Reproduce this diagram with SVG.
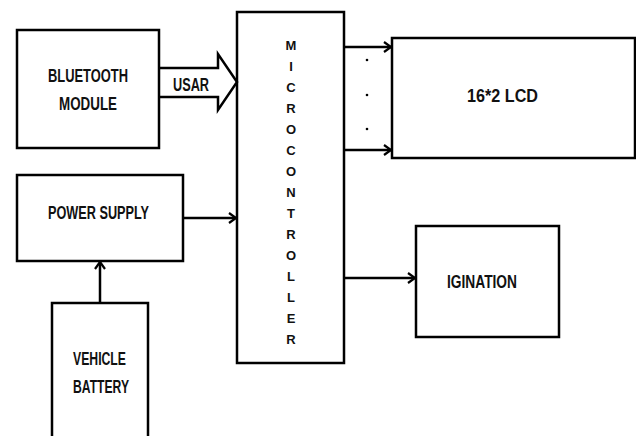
<svg xmlns="http://www.w3.org/2000/svg" width="636" height="436" viewBox="0 0 636 436">
<style>
.box{fill:#fff;stroke:#000;stroke-width:2.5}
.t{font-family:"Liberation Sans",Arial,sans-serif;font-weight:bold;font-size:19px;fill:#111}
.m{font-family:"Liberation Sans",Arial,sans-serif;font-weight:bold;font-size:13px;fill:#111;text-anchor:middle}
.c{fill:none;stroke:#000;stroke-width:2.5}
</style>
<defs>
<marker id="ah" markerWidth="10" markerHeight="12" refX="8" refY="6" orient="auto" markerUnits="userSpaceOnUse">
<polyline points="1,1 8,6 1,11" fill="none" stroke="#000" stroke-width="2.2"/>
</marker>
</defs>
<rect width="636" height="436" fill="#fff"/>
<g id="bluetooth">
<rect class="box" x="17" y="30" width="142" height="118"/>
<text class="t" x="48" y="82" textLength="80" lengthAdjust="spacingAndGlyphs">BLUETOOTH</text>
<text class="t" x="59" y="110" textLength="58" lengthAdjust="spacingAndGlyphs">MODULE</text>
</g>
<g id="power">
<rect class="box" x="17" y="175" width="166" height="86"/>
<text class="t" x="48" y="219" textLength="101" lengthAdjust="spacingAndGlyphs">POWER SUPPLY</text>
</g>
<g id="battery">
<rect class="box" x="52" y="303" width="96" height="150"/>
<text class="t" x="73" y="365" textLength="53" lengthAdjust="spacingAndGlyphs">VEHICLE</text>
<text class="t" x="73" y="393" textLength="56" lengthAdjust="spacingAndGlyphs">BATTERY</text>
</g>
<g id="microcontroller">
<rect class="box" x="237" y="12" width="107" height="351"/>
<text class="m" x="291" y="50">M</text>
<text class="m" x="291" y="71">I</text>
<text class="m" x="291" y="92">C</text>
<text class="m" x="291" y="113">R</text>
<text class="m" x="291" y="134">O</text>
<text class="m" x="291" y="155">C</text>
<text class="m" x="291" y="176">O</text>
<text class="m" x="291" y="197">N</text>
<text class="m" x="291" y="218">T</text>
<text class="m" x="291" y="239">R</text>
<text class="m" x="291" y="260">O</text>
<text class="m" x="291" y="281">L</text>
<text class="m" x="291" y="302">L</text>
<text class="m" x="291" y="323">E</text>
<text class="m" x="291" y="344">R</text>
</g>
<g id="lcd">
<rect class="box" x="392" y="38" width="243" height="120"/>
<text class="t" x="467" y="102" textLength="71" lengthAdjust="spacingAndGlyphs">16*2 LCD</text>
</g>
<g id="ignition">
<rect class="box" x="416" y="226" width="143" height="111"/>
<text class="t" x="447" y="288" textLength="70" lengthAdjust="spacingAndGlyphs">IGINATION</text>
</g>
<g id="connectors">
<path class="c" d="M159,68 H218 V54 L237,82 L218,110 V97 H159" stroke-linejoin="miter"/>
<text class="t" x="173" y="91" textLength="36" lengthAdjust="spacingAndGlyphs">USAR</text>
<line class="c" x1="183" y1="218" x2="236" y2="218" marker-end="url(#ah)"/>
<line class="c" x1="100" y1="303" x2="100" y2="262" marker-end="url(#ah)"/>
<line class="c" x1="344" y1="47" x2="391" y2="47" marker-end="url(#ah)"/>
<line class="c" x1="344" y1="150" x2="391" y2="150" marker-end="url(#ah)"/>
<line class="c" x1="344" y1="278" x2="415" y2="278" marker-end="url(#ah)"/>
<circle cx="367" cy="60" r="1.3" fill="#000"/>
<circle cx="367" cy="95" r="1.3" fill="#000"/>
<circle cx="367" cy="129" r="1.3" fill="#000"/>
</g>
</svg>
